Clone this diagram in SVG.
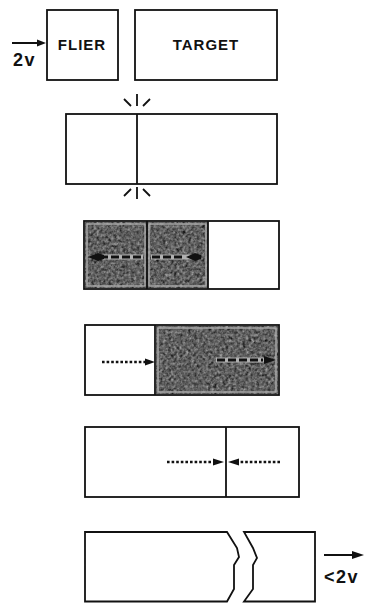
<svg xmlns="http://www.w3.org/2000/svg" width="365" height="603" viewBox="0 0 365 603">
  <style>
    .box { fill: #fff; stroke: #111; stroke-width: 1.8; }
    .line { stroke: #111; stroke-width: 1.8; fill: none; }
    .lbl { font-family: "Liberation Sans", Arial, sans-serif; font-weight: bold; fill: #111; }
    .name { font-size: 15px; letter-spacing: 1px; text-anchor: middle; }
    .vel { font-size: 18px; letter-spacing: 1.5px; }
    .shaft { stroke: #111; stroke-width: 2; fill: none; }
    .dot { stroke: #111; stroke-width: 2.6; stroke-dasharray: 2.6 2; fill: none; }
    .dashHalo { stroke: #b0b0b0; stroke-width: 5; fill: none; }
    .dash { stroke: #111; stroke-width: 2.8; stroke-dasharray: 8 3; fill: none; }
    .head { fill: #111; }
    .shade { fill: #5e5e5e; filter: url(#grain); }
    .edge { fill: none; stroke: #acacac; stroke-width: 1.4; }
  </style>
  <defs>
    <filter id="grain" x="0" y="0" width="100%" height="100%" color-interpolation-filters="sRGB">
      <feTurbulence type="fractalNoise" baseFrequency="0.35" numOctaves="2" seed="7" result="n"/>
      <feColorMatrix in="n" type="matrix" values="0.33 0.33 0.33 0 0  0.33 0.33 0.33 0 0  0.33 0.33 0.33 0 0  0 0 0 0 1" result="g"/>
      <feComponentTransfer in="g" result="t">
        <feFuncR type="linear" slope="1.2" intercept="-0.22"/>
        <feFuncG type="linear" slope="1.2" intercept="-0.22"/>
        <feFuncB type="linear" slope="1.2" intercept="-0.22"/>
      </feComponentTransfer>
      <feComposite in="t" in2="SourceGraphic" operator="in"/>
    </filter>
  </defs>

  <!-- stage 1: flier approaching target -->
  <g id="flier">
    <rect class="box" x="47" y="10" width="71" height="70"/>
    <text class="lbl name" x="82" y="50">FLIER</text>
  </g>
  <g id="target">
    <rect class="box" x="135" y="10" width="142" height="70"/>
    <text class="lbl name" x="206" y="50">TARGET</text>
  </g>
  <g id="flier-velocity">
    <line class="shaft" x1="12" y1="43" x2="38" y2="43"/>
    <polygon class="head" points="46,43 37,39.5 37,46.5"/>
    <text class="lbl vel" x="13" y="66">2v</text>
  </g>

  <!-- stage 2: impact -->
  <g id="impact">
    <rect class="box" x="66" y="114" width="211" height="70"/>
    <line class="line" x1="137" y1="114" x2="137" y2="184"/>
    <g class="line" stroke-width="1.6">
      <line x1="137" y1="94" x2="137" y2="106"/>
      <line x1="124" y1="99" x2="131" y2="106"/>
      <line x1="150" y1="99" x2="143" y2="106"/>
      <line x1="137" y1="187" x2="137" y2="199"/>
      <line x1="124" y1="196" x2="131" y2="189"/>
      <line x1="150" y1="196" x2="143" y2="189"/>
    </g>
  </g>

  <!-- stage 3: shock waves in flier and target -->
  <g id="shock">
    <rect class="box" x="84" y="221" width="195" height="68"/>
    <rect class="shade" x="85" y="222" width="123" height="66"/>
    <rect class="edge" x="87" y="224" width="58" height="62"/>
    <rect class="edge" x="149" y="224" width="57" height="62"/>
    <line class="line" x1="147" y1="221" x2="147" y2="289"/>
    <line class="line" x1="208" y1="221" x2="208" y2="289"/>
    <line class="dashHalo" x1="96" y1="257" x2="143" y2="257"/>
    <line class="dash" x1="100" y1="257" x2="143" y2="257"/>
    <polygon class="head" points="88,257 98,253 104,255 104,259 98,261"/>
    <line class="dashHalo" x1="151" y1="257" x2="200" y2="257"/>
    <line class="dash" x1="152" y1="257" x2="184" y2="257"/>
    <polygon class="head" points="186,257 195,253 201,255 201,259 195,261"/>
  </g>

  <!-- stage 4: release from the flier's rear surface -->
  <g id="release">
    <rect class="box" x="85" y="325" width="194" height="70"/>
    <rect class="shade" x="156" y="326" width="122" height="68"/>
    <rect class="edge" x="158" y="328" width="118" height="64"/>
    <line class="line" x1="155" y1="325" x2="155" y2="395"/>
    <line class="dot" x1="102" y1="362" x2="146" y2="362"/>
    <polygon class="head" points="155,362 145,358.5 145,365.5"/>
    <line class="dashHalo" x1="216" y1="360" x2="266" y2="360"/>
    <line class="dash" x1="217" y1="360" x2="263" y2="360"/>
    <polygon class="head" points="276,360 264,356 264,364"/>
  </g>

  <!-- stage 5: rarefaction waves meeting -->
  <g id="tension">
    <rect class="box" x="85" y="427" width="214" height="70"/>
    <line class="line" x1="226" y1="427" x2="226" y2="497"/>
    <line class="dot" x1="167" y1="462" x2="214" y2="462"/>
    <polygon class="head" points="224,462 213,458.5 213,465.5"/>
    <line class="dot" x1="280" y1="462" x2="238" y2="462"/>
    <polygon class="head" points="228,462 239,458.5 239,465.5"/>
  </g>

  <!-- stage 6: spall fracture -->
  <g id="spall">
    <path class="line" d="M227,532 L85,532 L85,601.5 L227,601.5 L234,589 L234,565 L239,557 L237,548 Z"/>
    <path class="line" d="M244,532 L315,532 L315,601.5 L244,601.5 L253,589 L253,565 L257,558 L253,548 Z"/>
  </g>
  <g id="spall-velocity">
    <line class="shaft" x1="324" y1="555" x2="353" y2="555"/>
    <polygon class="head" points="364,555 352,551 352,559"/>
    <text class="lbl vel" x="324" y="583">&lt;2v</text>
  </g>
</svg>
